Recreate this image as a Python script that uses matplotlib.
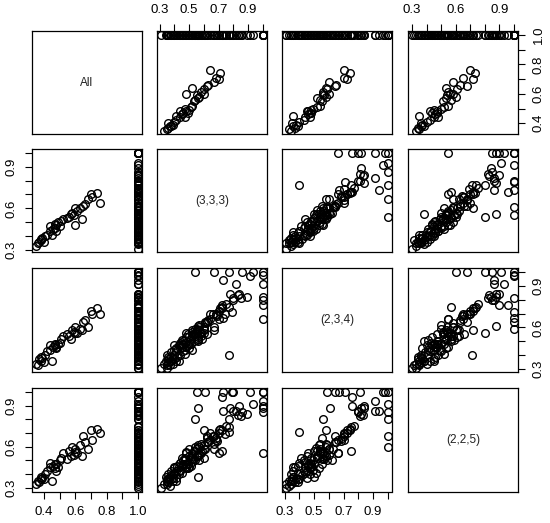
import numpy as np
import matplotlib.pyplot as plt

plt.rcParams['font.family'] = ['Liberation Sans', 'DejaVu Sans']

names = ["All", "(3,3,3)", "(2,3,4)", "(2,2,5)"]

#* samples with All < 1
all_a = [0.35, 0.36, 0.37, 0.38, 0.38, 0.39, 0.40, 0.41, 0.42, 0.44, 0.44, 0.45, 0.46,
         0.47, 0.47, 0.48, 0.48, 0.49, 0.50, 0.51, 0.52, 0.55, 0.56, 0.58, 0.60, 0.59,
         0.60, 0.61, 0.64, 0.63, 0.65, 0.68, 0.70, 0.71, 0.76, 0.74, 0.66, 0.57]
s333_a = [0.33, 0.35, 0.36, 0.37, 0.38, 0.39, 0.36, 0.40, 0.41, 0.44, 0.47, 0.41, 0.45,
          0.46, 0.49, 0.44, 0.48, 0.50, 0.47, 0.51, 0.52, 0.53, 0.54, 0.57, 0.48, 0.55,
          0.60, 0.58, 0.52, 0.60, 0.62, 0.67, 0.70, 0.68, 0.64, 0.71, 0.63, 0.56]
s234_a = [0.34, 0.33, 0.37, 0.36, 0.39, 0.38, 0.35, 0.40, 0.43, 0.47, 0.44, 0.36, 0.46,
          0.48, 0.47, 0.45, 0.46, 0.48, 0.49, 0.52, 0.54, 0.55, 0.54, 0.58, 0.56, 0.57,
          0.60, 0.56, 0.58, 0.59, 0.64, 0.60, 0.72, 0.70, 0.70, 0.74, 0.65, 0.52]
s225_a = [0.33, 0.35, 0.34, 0.38, 0.36, 0.37, 0.36, 0.40, 0.42, 0.48, 0.45, 0.35, 0.46,
          0.47, 0.44, 0.42, 0.47, 0.45, 0.50, 0.52, 0.55, 0.51, 0.57, 0.60, 0.56, 0.54,
          0.58, 0.55, 0.53, 0.61, 0.68, 0.58, 0.72, 0.65, 0.70, 0.73, 0.63, 0.53]

#* samples with All = 1
s333_b = [1.00, 1.00, 1.00, 1.00, 1.00, 1.00, 1.00, 0.93, 0.86, 0.77, 0.67, 0.54,
          0.55, 0.61, 0.73, 0.79, 0.80, 0.91, 0.72, 0.56, 0.78, 0.84, 0.89, 0.80,
          0.73, 0.82, 0.83, 0.85, 0.70, 0.72, 0.75, 0.68, 0.66, 0.64, 0.77, 0.74,
          0.69, 0.62, 0.77, 0.67, 0.72, 0.70, 0.54, 0.60, 0.56,
          0.31, 0.34, 0.35, 0.35, 0.36, 0.37, 0.38, 0.38, 0.39, 0.40, 0.40, 0.41,
          0.42, 0.43, 0.44, 0.44, 0.45, 0.46, 0.46, 0.47, 0.48, 0.48, 0.49, 0.50,
          0.50, 0.51, 0.52, 0.53, 0.54, 0.55, 0.55, 0.56, 0.57, 0.58, 0.59, 0.60,
          0.61, 0.62, 0.45, 0.40, 0.52, 0.36, 0.43, 0.57]
s234_b = [1.00, 0.98, 0.91, 0.82, 0.80, 0.76, 0.66, 1.00, 1.00, 1.00, 1.00, 1.00,
          0.59, 0.64, 0.67, 0.71, 0.81, 0.97, 0.76, 0.61, 0.84, 0.84, 0.82, 0.80,
          0.94, 0.91, 0.83, 0.81, 0.72, 0.74, 0.77, 0.69, 0.70, 0.66, 0.75, 0.70,
          0.68, 0.64, 0.40, 0.58, 0.75, 0.66, 0.56, 0.58, 0.50,
          0.31, 0.36, 0.31, 0.40, 0.34, 0.33, 0.42, 0.36, 0.34, 0.44, 0.37, 0.45,
          0.39, 0.47, 0.40, 0.49, 0.51, 0.43, 0.50, 0.41, 0.53, 0.46, 0.55, 0.45,
          0.54, 0.48, 0.57, 0.50, 0.59, 0.51, 0.58, 0.53, 0.60, 0.54, 0.52, 0.56,
          0.63, 0.55, 0.48, 0.47, 0.44, 0.39, 0.36, 0.62]
s225_b = [1.00, 1.00, 0.93, 0.88, 0.85, 0.90, 0.55, 0.91, 0.85, 0.80, 0.68, 0.60,
          1.00, 1.00, 1.00, 1.00, 1.00, 1.00, 0.96, 0.88, 0.88, 0.90, 0.84, 0.86,
          0.86, 0.86, 0.83, 0.82, 0.70, 0.72, 0.75, 0.66, 0.68, 0.65, 0.74, 0.69,
          0.64, 0.63, 0.71, 0.62, 0.57, 0.55, 0.80, 0.72, 0.38,
          0.30, 0.38, 0.33, 0.36, 0.40, 0.31, 0.39, 0.42, 0.35, 0.41, 0.45, 0.37,
          0.46, 0.40, 0.48, 0.43, 0.41, 0.50, 0.47, 0.52, 0.44, 0.55, 0.47, 0.53,
          0.58, 0.46, 0.51, 0.57, 0.50, 0.59, 0.53, 0.61, 0.54, 0.62, 0.57, 0.52,
          0.58, 0.66, 0.52, 0.44, 0.49, 0.34, 0.45, 0.50]

#* ticks of each variable and the labels shown on horizontal / vertical axes
tick_vals = [
    [0.4, 0.5, 0.6, 0.7, 0.8, 0.9, 1.0],
    [0.3, 0.4, 0.5, 0.6, 0.7, 0.8, 0.9, 1.0],
    [0.3, 0.4, 0.5, 0.6, 0.7, 0.8, 0.9, 1.0],
    [0.3, 0.4, 0.5, 0.6, 0.7, 0.8, 0.9, 1.0],
]
labels_h = [["0.4", "0.6", "0.8", "1.0"], ["0.3", "0.5", "0.7", "0.9"],
            ["0.3", "0.5", "0.7", "0.9"], ["0.3", "0.6", "0.9"]]
labels_v = [["0.4", "0.6", "0.8", "1.0"], ["0.3", "0.6", "0.9"],
            ["0.3", "0.6", "0.9"], ["0.3", "0.6", "0.9"]]

n_b = len(s333_b)
data = [np.array(all_a + [1.0] * n_b),
        np.array(s333_a + s333_b),
        np.array(s234_a + s234_b),
        np.array(s225_a + s225_b)]

lims = []
for d in data:
    r = d.max() - d.min()
    lims.append((d.min() - 0.04 * r, d.max() + 0.04 * r))

W, H = 550, 523
col_x = [32, 157, 282, 408]
row_y = [31, 149, 268, 388]
pw, ph = 110, 103.5

fig = plt.figure(figsize=(W / 100, H / 100), dpi=100)

for i in range(4):
    for j in range(4):
        ax = fig.add_axes([col_x[j] / W, 1 - (row_y[i] + ph) / H, pw / W, ph / H])
        for s in ax.spines.values():
            s.set_linewidth(0.9)
        ax.tick_params(which='both', bottom=False, top=False, left=False, right=False,
                       labelbottom=False, labeltop=False, labelleft=False, labelright=False,
                       direction='out', length=5, width=0.8, labelsize=9.5, pad=5.5)
        if i == j:
            ax.set_xticks([])
            ax.set_yticks([])
            ax.text(0.5, 0.5, names[i], ha='center', va='center', fontsize=8.5,
                    color='#222222', transform=ax.transAxes)
            continue
        ax.plot(data[j], data[i], 'o', mfc='none', mec='black', ms=5.5, mew=1.0)
        ax.set_xticks(tick_vals[j])
        ax.set_xticklabels([f"{v:.1f}" if f"{v:.1f}" in labels_h[j] else "" for v in tick_vals[j]])
        ax.set_yticks(tick_vals[i])
        ax.set_yticklabels([f"{v:.1f}" if f"{v:.1f}" in labels_v[i] else "" for v in tick_vals[i]])
        ax.set_xlim(lims[j])
        ax.set_ylim(lims[i])
        # outer axes, alternating like R pairs()
        if i == 3 and j % 2 == 0:
            ax.tick_params(axis='x', bottom=True, labelbottom=True)
        if i == 0 and j % 2 == 1:
            ax.tick_params(axis='x', top=True, labeltop=True)
        if j == 0 and i % 2 == 1:
            ax.tick_params(axis='y', left=True, labelleft=True, labelrotation=90)
        if j == 3 and i % 2 == 0:
            ax.tick_params(axis='y', right=True, labelright=True, labelrotation=90)
        for lab in ax.get_yticklabels():
            lab.set_va('center')

fig.savefig("out.png", dpi=100)
